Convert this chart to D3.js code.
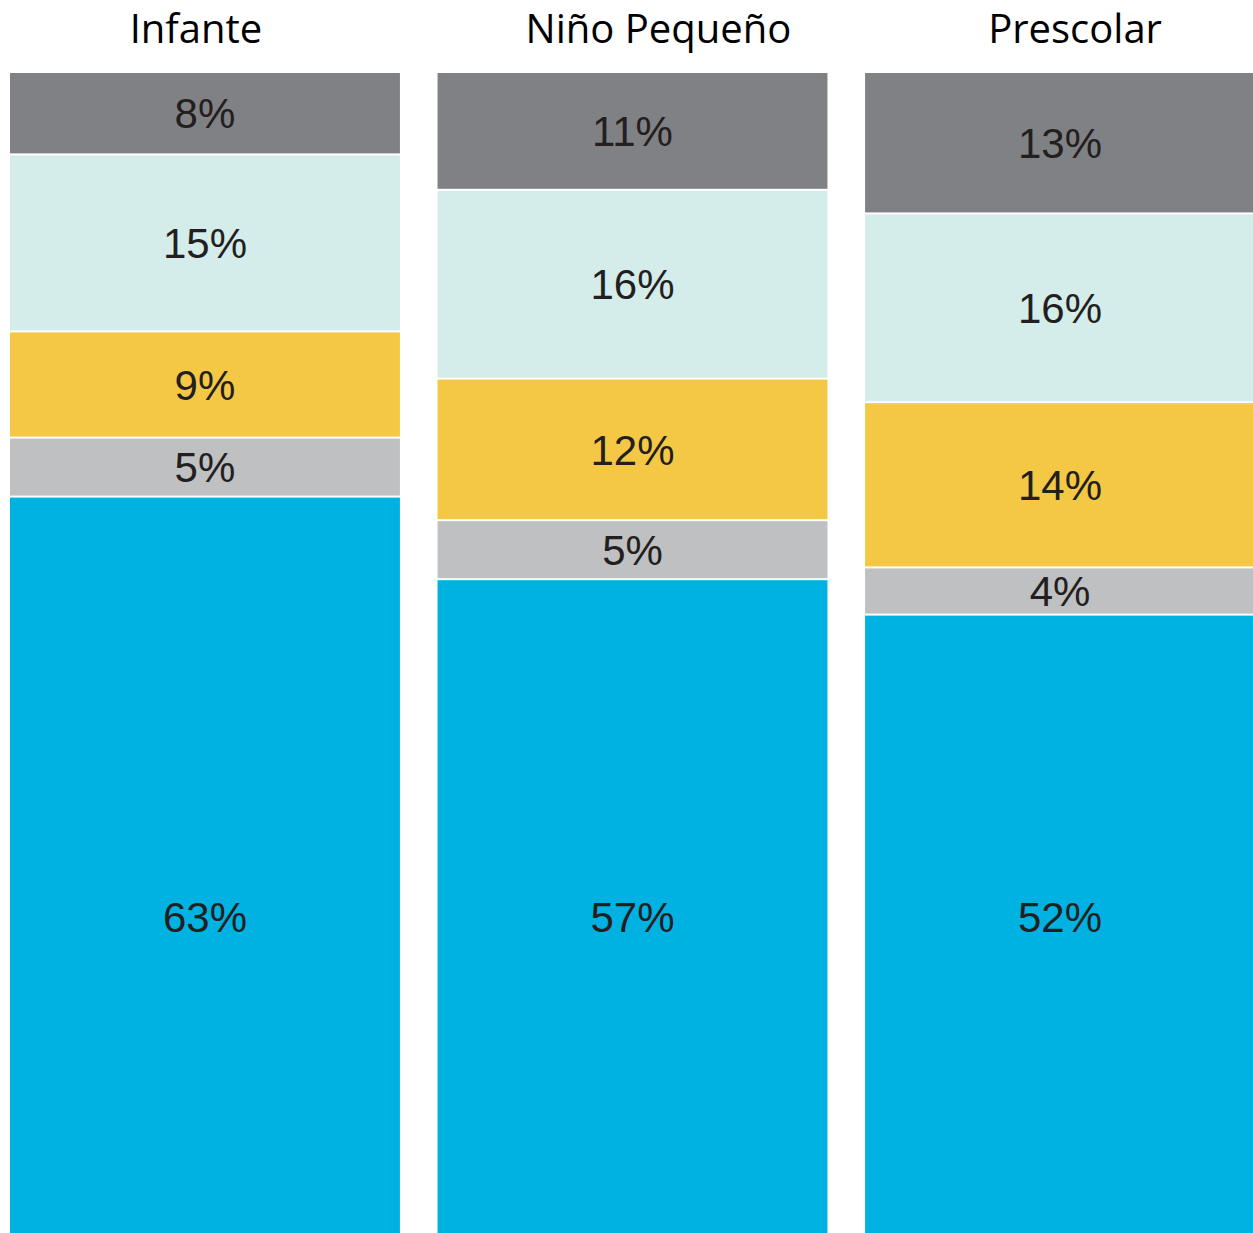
<!DOCTYPE html>
<html>
<head>
<meta charset="utf-8">
<script src="https://cdn.jsdelivr.net/npm/d3@7"></script>
<style>
  body { margin: 0; background: #fff; }
  svg { display: block; }
</style>
</head>
<body>
<svg id="chart"></svg>
<script>
// categories (columns) and segment series, top to bottom
const categories = ["Infante", "Niño Pequeño", "Prescolar"];
const series = ["s1", "s2", "s3", "s4", "s5"];
const s1 = [8, 11, 13];
const s2 = [15, 16, 16];
const s3 = [9, 12, 14];
const s4 = [5, 5, 4];
const s5 = [63, 57, 52];

const seriesColors = ["#808184", "#d4ecea", "#f4c844", "#bfc0c2", "#00b2e2"];
const titleShift = [-9, 26, 15];

const width = 1253, height = 1233;
const barTop = 73;
const svg = d3.select("#chart").attr("width", width).attr("height", height);

const rows = categories.map((c, i) => ({
  cat: c, s1: s1[i], s2: s2[i], s3: s3[i], s4: s4[i], s5: s5[i]
}));

const x = d3.scaleBand().domain(categories).range([10, 1255]).paddingInner(0.088);
const y = d3.scaleLinear().domain([0, 100]).range([60, 1240]);
const color = d3.scaleOrdinal(series, seriesColors);

const stacked = d3.stack().keys(series)(rows);

function segTop(d) { return d.key == "s1" ? barTop : y(d.p[0]) + 1; }
function segBottom(d) { return d.key == "s5" ? height : y(d.p[1]) - 1; }

const layer = svg.selectAll("g.layer")
  .data(stacked)
  .enter()
  .append("g")
  .attr("class", "layer")
  .attr("fill", d => color(d.key));

layer.selectAll("rect")
  .data(d => d.map(p => ({ key: d.key, p: p })))
  .enter()
  .append("rect")
  .attr("x", d => x(d.p.data.cat))
  .attr("width", x.bandwidth())
  .attr("y", d => segTop(d))
  .attr("height", d => Math.max(0, segBottom(d) - segTop(d)));

layer.selectAll("text")
  .data(d => d.map(p => ({ key: d.key, p: p })))
  .enter()
  .append("text")
  .attr("x", d => x(d.p.data.cat) + x.bandwidth() / 2)
  .attr("y", d => d.key == "s5" ? 917 : (segTop(d) + segBottom(d)) / 2)
  .attr("dy", "0.36em")
  .attr("text-anchor", "middle")
  .attr("fill", "#231f20")
  .style("font-family", "'Liberation Sans', Arial, sans-serif")
  .style("font-size", "42px")
  .text(d => (d.p[1] - d.p[0]) + "%");

svg.selectAll("text.title")
  .data(categories)
  .enter()
  .append("text")
  .attr("class", "title")
  .attr("x", (d, i) => x(d) + x.bandwidth() / 2 + titleShift[i])
  .attr("y", 43)
  .attr("text-anchor", "middle")
  .attr("fill", "#000")
  .style("font-family", "'Open Sans', Lato, sans-serif")
  .style("font-size", "40px")
  .text(d => d);
</script>
</body>
</html>
